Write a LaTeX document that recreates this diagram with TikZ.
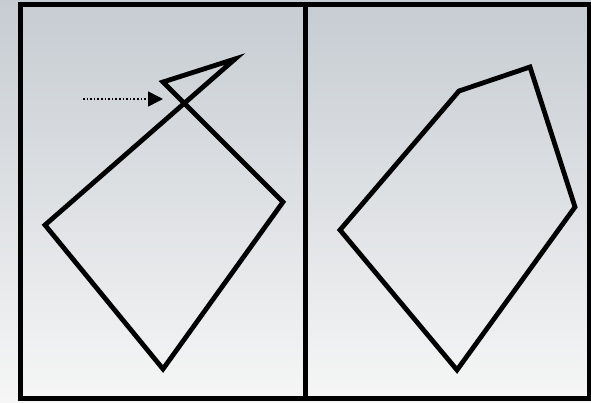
\documentclass[tikz,border=0pt]{standalone}
\usetikzlibrary{arrows.meta}
\definecolor{bgtop}{RGB}{198,204,210}
\definecolor{bgmid}{RGB}{232,234,236}
\definecolor{bgbot}{RGB}{246,246,246}
\tikzset{
  shapeline/.style={line width=4.8pt, line join=miter, line cap=butt},
  frameline/.style={line width=5pt},
  hintarrow/.style={line width=1.6pt, dotted, -{Triangle[length=15pt,width=15pt]}}
}
\begin{document}
\begin{tikzpicture}[x=1pt,y=-1pt]
\useasboundingbox (0,0) rectangle (591,402);
\shade[shading angle=20, top color=bgtop, middle color=bgmid, bottom color=bgbot] (0,0) rectangle (591,402);
% frame
\draw[frameline] (20.8,4.2) rectangle (589,398.5);
\draw[frameline] (305.5,4.2) -- (305.5,398.5);
% left panel shape
\coordinate (a1) at (163,82);
\coordinate (a2) at (235,59);
\coordinate (a3) at (45,225);
\coordinate (a4) at (163,369);
\coordinate (a5) at (283,202);
\draw[shapeline] (a1) -- (a2) -- (a3) -- (a4) -- (a5) -- cycle;
% hint arrow
\coordinate (h1) at (83,99);
\coordinate (h2) at (163,99);
\draw[hintarrow] (h1) -- (h2);
% right panel shape
\coordinate (b1) at (459,91);
\coordinate (b2) at (530,67);
\coordinate (b3) at (575,207);
\coordinate (b4) at (457,370);
\coordinate (b5) at (340,230);
\draw[shapeline] (b1) -- (b2) -- (b3) -- (b4) -- (b5) -- cycle;
\end{tikzpicture}
\end{document}
